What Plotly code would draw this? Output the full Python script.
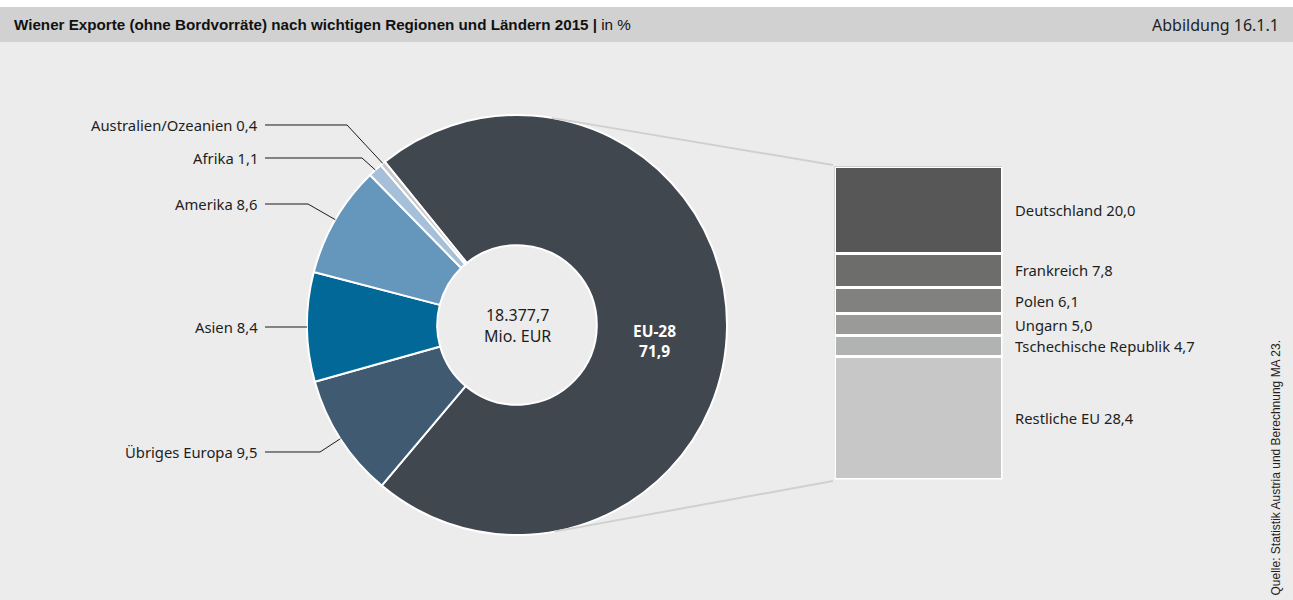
import math
import plotly.graph_objects as go

# Regions (clockwise, starting with EU-28)
regions = ["EU-28", "Übriges Europa", "Asien", "Amerika", "Afrika", "Australien/Ozeanien"]
region_values = [71.9, 9.5, 8.4, 8.6, 1.1, 0.4]
region_labels = ["EU-28 71,9", "Übriges Europa 9,5", "Asien 8,4", "Amerika 8,6", "Afrika 1,1",
                 "Australien/Ozeanien 0,4"]
region_colors = ["#41474f", "#405b71", "#016898", "#6596bc", "#a7c0d9", "#c9c9c9"]

# EU-28 breakdown (top to bottom)
countries = ["Deutschland", "Frankreich", "Polen", "Ungarn", "Tschechische Republik", "Restliche EU"]
country_values = [20.0, 7.8, 6.1, 5.0, 4.7, 28.4]
country_labels = ["Deutschland 20,0", "Frankreich 7,8", "Polen 6,1", "Ungarn 5,0",
                  "Tschechische Republik 4,7", "Restliche EU 28,4"]
country_colors = ["#575757", "#6d6d6c", "#818180", "#9a9a99", "#b1b2b2", "#c6c7c6"]

total_label = "18.377,7<br>Mio. EUR"

W, H = 1293, 600
FONT = "Noto Sans, sans-serif"
NARROW = "Liberation Sans Narrow, Arial Narrow, sans-serif"
LABEL_SIZE = 14.8


def px(x):
    return x / W


def py(y):
    return 1 - y / H


# pie geometry in pixels
cx, cy, R = 517, 325, 210
rotation = -39

fig = go.Figure()

fig.add_trace(go.Pie(
    labels=regions, values=region_values, sort=False, direction="clockwise",
    rotation=rotation, hole=0.38,
    marker=dict(colors=region_colors, line=dict(color="white", width=2)),
    textinfo="none", hoverinfo="label+value", showlegend=False,
    domain=dict(x=[px(cx - R), px(cx + R)], y=[py(cy + R), py(cy - R)]),
))

# stacked bar for the EU-28 breakdown
for name, val, col in zip(countries, country_values, country_colors):
    fig.add_trace(go.Bar(
        x=["EU"], y=[val], name=name, width=1,
        marker=dict(color=col, line=dict(color="white", width=3)),
        xaxis="x", yaxis="y", showlegend=False, hoverinfo="name+y",
    ))

bar_top, bar_bot = 166.5, 479.5
bar_left, bar_right = 834.5, 1002.5

shapes = [
    dict(type="rect", xref="paper", yref="paper", x0=0, x1=1, y0=py(7), y1=1,
         fillcolor="white", line_width=0, layer="below"),
    dict(type="rect", xref="paper", yref="paper", x0=0, x1=1, y0=py(42), y1=py(7),
         fillcolor="#d0d1d0", line_width=0, layer="below"),
]


def tangent_point(qx, qy, sign):
    d = math.hypot(qx - cx, qy - cy)
    base = math.atan2(qy - cy, qx - cx)
    a = base + sign * math.acos(R / d)
    return cx + R * math.cos(a), cy + R * math.sin(a)


# connector lines from the pie to the bar
for qx, qy, s in [(833, 165, -1), (833, 481, 1)]:
    tx, ty = tangent_point(qx, qy, s)
    shapes.append(dict(type="line", xref="paper", yref="paper",
                       x0=px(tx), y0=py(ty), x1=px(qx), y1=py(qy),
                       line=dict(color="#d0d0d0", width=2)))

# leader lines from labels to the slice mid-angles
total = sum(region_values)
start = rotation
mids = []
for v in region_values:
    span = v / total * 360
    mids.append(start + span / 2)
    start += span

label_y = {"Übriges Europa": 452, "Asien": 327, "Amerika": 204, "Afrika": 158,
           "Australien/Ozeanien": 125}
knee_x = {"Übriges Europa": 320, "Asien": None, "Amerika": 308, "Afrika": 362,
          "Australien/Ozeanien": 347}

annotations = []
for name, lab, mid in zip(regions, region_labels, mids):
    if name == "EU-28":
        continue
    a = math.radians(mid)
    ex, ey = cx + R * math.sin(a), cy - R * math.cos(a)
    ly = label_y[name]
    kx = knee_x[name]
    if kx is None:
        pts = [(265, ly), (ex, ly)]
    else:
        pts = [(265, ly), (kx, ly), (ex, ey)]
    path = "M " + " L ".join(f"{px(x):.5f},{py(y):.5f}" for x, y in pts)
    shapes.append(dict(type="path", xref="paper", yref="paper", path=path,
                       line=dict(color="#1a1a1a", width=1)))
    annotations.append(dict(x=px(260), y=py(ly), xref="paper", yref="paper", text=lab,
                            showarrow=False, xanchor="right", yanchor="middle",
                            font=dict(family=FONT, size=LABEL_SIZE, color="#1e1e1e")))

# labels beside the bar, centred on each segment
cum = 0
for lab, val in zip(country_labels, country_values):
    annotations.append(dict(x=px(1013), y=cum + val / 2, xref="paper", yref="y", text=lab,
                            showarrow=False, xanchor="left", yanchor="middle",
                            font=dict(family=FONT, size=LABEL_SIZE, color="#1e1e1e")))
    cum += val

# centre and EU-28 slice text
annotations.append(dict(x=px(cx), y=py(cy), xref="paper", yref="paper", text=total_label,
                        showarrow=False, font=dict(family=FONT, size=16, color="#1e1e1e")))
annotations.append(dict(x=px(654), y=py(341), xref="paper", yref="paper",
                        text="<b>EU-28<br>71,9</b>", showarrow=False,
                        font=dict(family=FONT, size=15.5, color="white")))

# header
annotations.append(dict(x=px(12), y=py(25), xref="paper", yref="paper", xanchor="left",
                        yanchor="middle", showarrow=False,
                        text="<b>Wiener Exporte (ohne Bordvorräte) nach wichtigen Regionen und Ländern 2015 |</b> in %",
                        font=dict(family=NARROW, size=15.2, color="#111111")))
annotations.append(dict(x=px(1281), y=py(25), xref="paper", yref="paper", xanchor="right",
                        yanchor="middle", showarrow=False, text="Abbildung 16.1.1",
                        font=dict(family=FONT, size=16, color="#1e1e1e")))
# source
annotations.append(dict(x=px(1275), y=py(598), xref="paper", yref="paper", xanchor="center",
                        yanchor="bottom", showarrow=False, textangle=-90,
                        text="Quelle: Statistik Austria und Berechnung MA 23.",
                        font=dict(family=NARROW, size=12, color="#1e1e1e")))

fig.update_layout(
    width=W, height=H, margin=dict(l=0, r=0, t=0, b=0),
    paper_bgcolor="#ececec", plot_bgcolor="rgba(0,0,0,0)",
    barmode="stack", bargap=0,
    xaxis=dict(domain=[px(bar_left), px(bar_right)], range=[-0.5, 0.5], visible=False,
               fixedrange=True),
    yaxis=dict(domain=[py(bar_bot), py(bar_top)], range=[sum(country_values), 0],
               visible=False, fixedrange=True),
    shapes=shapes, annotations=annotations,
)

fig.write_html("out.html")
